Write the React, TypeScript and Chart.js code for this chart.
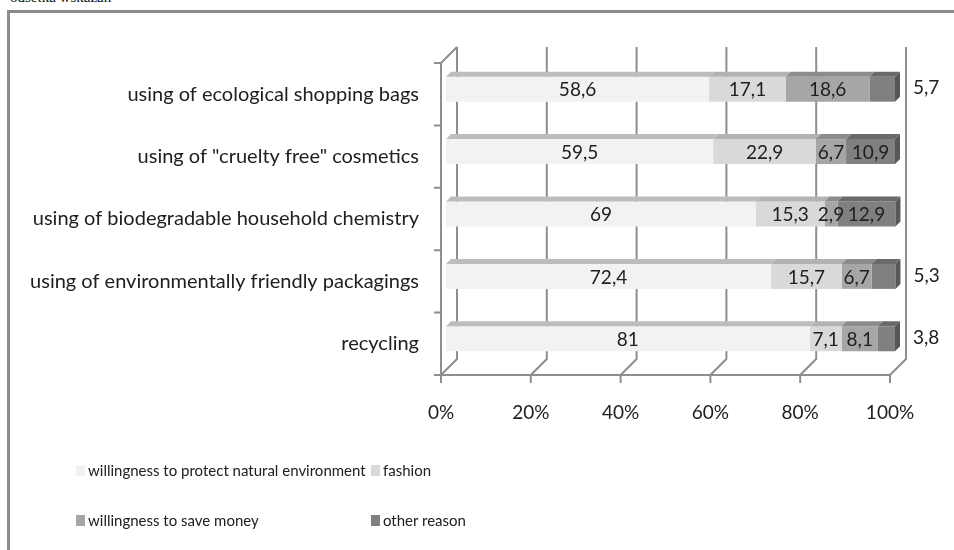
import React, { useEffect, useRef } from "react";
import { Chart, registerables } from "chart.js";

Chart.register(...registerables);

// ---- data ----
const categories = [
  "using of ecological shopping bags",
  'using of "cruelty free" cosmetics',
  "using of biodegradable household chemistry",
  "using of environmentally friendly packagings",
  "recycling",
];
const seriesNames = [
  "willingness to protect natural environment",
  "fashion",
  "willingness to save money",
  "other reason",
];
const protectValues = [58.6, 59.5, 69, 72.4, 81];
const fashionValues = [17.1, 22.9, 15.3, 15.7, 7.1];
const saveMoneyValues = [18.6, 6.7, 2.9, 6.7, 8.1];
const otherValues = [5.7, 10.9, 12.9, 5.3, 3.8];
const xTicks = [0, 20, 40, 60, 80, 100];
const topNote = "odsetka wskazań";

// ---- styles ----
const frontColors = ["#f2f2f2", "#d9d9d9", "#a6a6a6", "#808080"];
const topColors = ["#bdbdbd", "#b3b3b3", "#8c8c8c", "#6a6a6a"];
const sideColor = "#575757";
const FONT = "Lato, 'Open Sans', sans-serif";
const TEXT = "#202020";
const WALL_D = 16;
const BAR_D = 5;

const fmt = (v: number) => String(v).replace(".", ",");

const threeD = {
  id: "threeD",
  beforeDatasetsDraw(chart: any) {
    const { ctx, chartArea: a, scales } = chart;
    const xs = scales.x;
    ctx.save();
    ctx.strokeStyle = "#8e8e8e";
    ctx.lineWidth = 2;
    ctx.beginPath();
    xTicks.forEach((v) => {
      const x = xs.getPixelForValue(v);
      ctx.moveTo(x + WALL_D, a.top - WALL_D);
      ctx.lineTo(x + WALL_D, a.bottom - WALL_D);
      ctx.lineTo(x, a.bottom);
      ctx.lineTo(x, a.bottom + 8);
    });
    ctx.moveTo(a.left + WALL_D, a.top - WALL_D);
    ctx.lineTo(a.left, a.top);
    ctx.lineTo(a.left, a.bottom);
    ctx.moveTo(a.left - 7, a.bottom);
    ctx.lineTo(a.right, a.bottom);
    const n = categories.length;
    for (let i = 0; i <= n; i++) {
      const y = a.top + ((a.bottom - a.top) * i) / n;
      ctx.moveTo(a.left - 7, y);
      ctx.lineTo(a.left, y);
    }
    ctx.stroke();
    ctx.restore();
    ctx.save();
    ctx.translate(BAR_D, -BAR_D);
  },
  afterDatasetsDraw(chart: any) {
    const ctx = chart.ctx;
    const last = chart.data.datasets.length - 1;
    chart.data.datasets.forEach((ds: any, di: number) => {
      const meta = chart.getDatasetMeta(di);
      meta.data.forEach((el: any) => {
        const { x, y, base, height } = el.getProps(["x", "y", "base", "height"], true);
        const top = y - height / 2;
        const bottom = y + height / 2;
        const l = Math.min(x, base);
        const r = Math.max(x, base);
        ctx.fillStyle = topColors[di];
        ctx.beginPath();
        ctx.moveTo(l, top);
        ctx.lineTo(r, top);
        ctx.lineTo(r + BAR_D, top - BAR_D);
        ctx.lineTo(l + BAR_D, top - BAR_D);
        ctx.closePath();
        ctx.fill();
        if (di === last) {
          ctx.fillStyle = sideColor;
          ctx.beginPath();
          ctx.moveTo(r, top);
          ctx.lineTo(r + BAR_D, top - BAR_D);
          ctx.lineTo(r + BAR_D, bottom - BAR_D);
          ctx.lineTo(r, bottom);
          ctx.closePath();
          ctx.fill();
        }
      });
    });
    ctx.fillStyle = TEXT;
    ctx.font = `19px ${FONT}`;
    ctx.textBaseline = "middle";
    chart.data.datasets.forEach((ds: any, di: number) => {
      const meta = chart.getDatasetMeta(di);
      meta.data.forEach((el: any, i: number) => {
        const v = ds.data[i];
        const { x, y, base } = el.getProps(["x", "y", "base"], true);
        if (di === last && v < 6) {
          ctx.textAlign = "left";
          ctx.fillText(fmt(v), x + 18, y - 1);
        } else {
          ctx.textAlign = "center";
          ctx.fillText(fmt(v), (x + base) / 2, y + 1);
        }
      });
    });
    ctx.restore();
  },
};

export default function App() {
  const ref = useRef<HTMLCanvasElement>(null);
  useEffect(() => {
    if (!ref.current) return;
    const values = [protectValues, fashionValues, saveMoneyValues, otherValues];
    const chart = new Chart(ref.current, {
      type: "bar",
      data: {
        labels: categories,
        datasets: seriesNames.map((name, i) => ({
          label: name,
          data: values[i],
          backgroundColor: frontColors[i],
          borderWidth: 0,
          clip: false as any,
        })),
      },
      options: {
        indexAxis: "y",
        responsive: false,
        animation: false,
        layout: { padding: { top: 63, right: 64, left: 0, bottom: 0 } },
        plugins: { legend: { display: false }, tooltip: { enabled: false } },
        datasets: { bar: { barPercentage: 0.4, categoryPercentage: 1 } },
        scales: {
          x: {
            stacked: true,
            min: 0,
            max: 100,
            ticks: {
              stepSize: 20,
              padding: 26,
              color: TEXT,
              font: { family: FONT, size: 19 },
              callback: (v: any) => v + "%",
            },
            grid: { display: false, drawTicks: false },
            border: { display: false },
            afterFit: (s: any) => {
              s.height = 175;
            },
          },
          y: {
            stacked: true,
            ticks: { padding: 22, color: TEXT, font: { family: FONT, size: 20 } },
            grid: { display: false, drawTicks: false },
            border: { display: false },
            afterFit: (s: any) => {
              s.width = 441;
            },
          },
        },
      } as any,
      plugins: [threeD],
    });
    return () => chart.destroy();
  }, []);

  return (
    <div style={{ position: "fixed", left: 0, top: 0, width: 954, height: 550, overflow: "hidden", background: "#fff" }}>
      <div
        style={{
          position: "absolute",
          left: 10,
          top: -10,
          fontFamily: "'Liberation Serif', serif",
          fontSize: 15,
          lineHeight: "15px",
          color: "#111",
          whiteSpace: "nowrap",
        }}
      >
        {topNote}
      </div>
      <div
        style={{
          position: "absolute",
          left: 7,
          top: 10,
          width: 2000,
          height: 2000,
          borderTop: "3px solid #8c8c8c",
          borderLeft: "3px solid #8c8c8c",
        }}
      />
      <canvas ref={ref} width={954} height={550} style={{ position: "absolute", left: 0, top: 0 }} />
      <div
        style={{
          position: "absolute",
          left: 76,
          top: 459,
          display: "grid",
          gridTemplateColumns: "295px auto",
          rowGap: 28,
          fontFamily: FONT,
          fontSize: 15,
          color: TEXT,
        }}
      >
        {seriesNames.map((name, i) => (
          <div key={name} style={{ display: "flex", alignItems: "center", height: 22, whiteSpace: "nowrap" }}>
            <span style={{ display: "inline-block", width: 9, height: 11, background: frontColors[i], marginRight: 3 }} />
            <span>{name}</span>
          </div>
        ))}
      </div>
    </div>
  );
}
